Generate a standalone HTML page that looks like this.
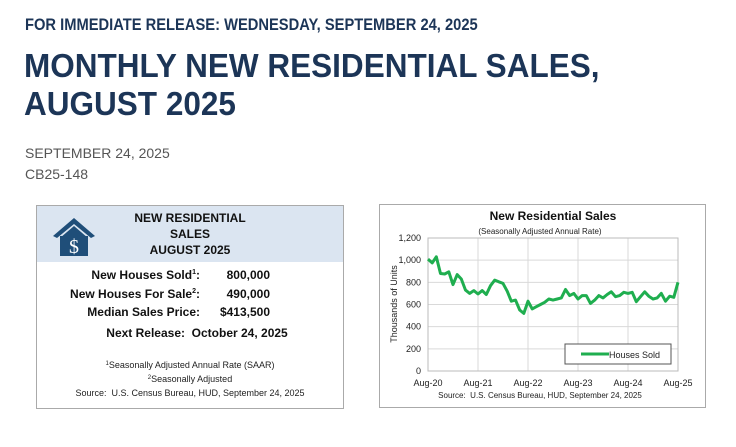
<!DOCTYPE html>
<html><head><style>
body{margin:0;width:736px;height:447px;background:#fff;font-family:"Liberation Sans",sans-serif;position:relative;overflow:hidden}
.a{position:absolute;white-space:nowrap}
.s{font-size:7px;position:relative;top:-5px}
.r{position:absolute;font-size:12px;font-weight:bold;color:#111;white-space:nowrap}
</style></head><body>
<div class="a" style="left:25px;top:15px;font-size:17px;font-weight:bold;color:#1c3557;transform:scaleX(0.865);transform-origin:left">FOR IMMEDIATE RELEASE: WEDNESDAY, SEPTEMBER 24, 2025</div>
<div class="a" style="left:24px;top:47px;font-size:33px;line-height:38px;color:#1c3557;font-weight:bold;transform:scaleX(0.955);transform-origin:left">MONTHLY NEW RESIDENTIAL SALES,<br>AUGUST 2025</div>
<div class="a" style="left:25px;top:143px;font-size:14px;color:#555;line-height:21px">SEPTEMBER 24, 2025<br>CB25-148</div>

<div class="a" style="left:36px;top:205px;width:306px;height:202px;border:1px solid #aaa;background:#fff">
 <div style="position:absolute;left:0;top:0;width:306px;height:56px;background:#dbe5f1"></div>
 <svg style="position:absolute;left:14px;top:10px" width="46" height="42"><polygon points="23,2 2,20 6,22 23,8 40,22 44,20" fill="#1f4e79"/><rect x="9" y="20" width="28" height="20" fill="#1f4e79"/><polygon points="23,10 9,22 37,22" fill="#1f4e79"/><text x="23" y="37" font-size="20" text-anchor="middle" fill="#fff" font-family="Liberation Serif">$</text></svg>
 <div class="a" style="left:60px;top:4px;width:186px;text-align:center;font-size:12px;font-weight:bold;line-height:16px;color:#111">NEW RESIDENTIAL<br>SALES<br>AUGUST 2025</div>
 <div class="r" style="right:143px;top:62px">New Houses Sold<span class="s">1</span>:</div>
 <div class="r" style="right:143px;top:81px">New Houses For Sale<span class="s">2</span>:</div>
 <div class="r" style="right:143px;top:99px">Median Sales Price:</div>
 <div class="r" style="right:73px;top:62px">800,000</div>
 <div class="r" style="right:73px;top:81px">490,000</div>
 <div class="r" style="right:73px;top:99px">$413,500</div>
 <div class="a" style="left:0;top:120px;width:306px;text-align:center;font-size:12px;font-weight:bold;color:#111;padding-left:14px;box-sizing:border-box">Next Release:&nbsp; October 24, 2025</div>
 <div class="a" style="left:0;top:153px;width:306px;text-align:center;font-size:9px;line-height:12px;color:#222"><span class="s" style="font-size:6px;top:-3px">1</span>Seasonally Adjusted Annual Rate (SAAR)<br><span class="s" style="font-size:6px;top:-3px">2</span>Seasonally Adjusted<br>Source:&nbsp; U.S. Census Bureau, HUD, September 24, 2025</div>
</div>

<div class="a" style="left:379px;top:204px;width:325px;height:202px;border:1px solid #aaa;background:#fff"></div>
<svg class="a" style="left:0;top:0" width="736" height="447" font-family="Liberation Sans">
<text x="553" y="220" font-size="12" font-weight="bold" text-anchor="middle" fill="#111">New Residential Sales</text>
<text x="540" y="234" font-size="8" text-anchor="middle" fill="#222">(Seasonally Adjusted Annual Rate)</text>
<g stroke="#d9d9d9" stroke-width="1" id="g"></g>
<rect x="428" y="238" width="250" height="133" fill="none" stroke="#bbb"/>
<g font-size="9" fill="#222" text-anchor="end" id="yl"></g>
<g font-size="9" fill="#222" text-anchor="middle" id="xl"></g>
<text transform="translate(397,304) rotate(-90)" font-size="9" text-anchor="middle" fill="#222">Thousands of Units</text>
<polyline id="ln" fill="none" stroke="#1fae4f" stroke-width="3" stroke-linejoin="round"/>
<rect x="565" y="344" width="106" height="20" fill="#fff" stroke="#555"/>
<line x1="581" y1="354" x2="609" y2="354" stroke="#1fae4f" stroke-width="3"/>
<text x="609" y="358" font-size="9" fill="#222">Houses Sold</text>
<text x="540" y="398" font-size="8" text-anchor="middle" fill="#222">Source:&#160; U.S. Census Bureau, HUD, September 24, 2025</text>
</svg>
<script>
var d=[1010,975,1030,880,875,895,780,870,830,730,700,725,695,725,690,770,820,805,790,720,630,640,550,520,630,560,580,600,620,650,640,650,660,735,680,700,650,680,680,610,640,680,660,690,715,670,680,710,700,710,625,670,715,675,650,660,700,630,675,665,800];
var ns="http://www.w3.org/2000/svg";
function X(i){return 428+i*250/60}function Y(v){return 371-v*133/1200}
document.getElementById('ln').setAttribute('points',d.map((v,i)=>X(i).toFixed(1)+','+Y(v).toFixed(1)).join(' '));
var g=document.getElementById('g'),yl=document.getElementById('yl'),xl=document.getElementById('xl');
for(var v=0;v<=1200;v+=200){var l=document.createElementNS(ns,'line');l.setAttribute('x1',428);l.setAttribute('x2',678);l.setAttribute('y1',Y(v));l.setAttribute('y2',Y(v));g.appendChild(l);
var t=document.createElementNS(ns,'text');t.setAttribute('x',421);t.setAttribute('y',Y(v)+3);t.textContent=v.toLocaleString('en-US');yl.appendChild(t);}
var labs=['Aug-20','Aug-21','Aug-22','Aug-23','Aug-24','Aug-25'];
for(var k=0;k<6;k++){var x=X(k*12);if(k>0&&k<5){var l=document.createElementNS(ns,'line');l.setAttribute('x1',x);l.setAttribute('x2',x);l.setAttribute('y1',238);l.setAttribute('y2',371);g.appendChild(l);}
var t=document.createElementNS(ns,'text');t.setAttribute('x',x);t.setAttribute('y',386);t.textContent=labs[k];xl.appendChild(t);}
</script>
</body></html>
